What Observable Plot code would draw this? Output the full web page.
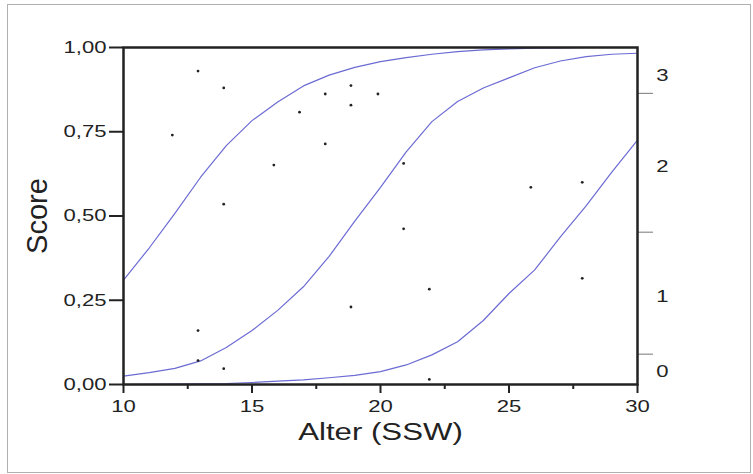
<!DOCTYPE html>
<html>
<head>
<meta charset="utf-8">
<script src="https://cdn.jsdelivr.net/npm/d3@7"></script>
<script src="https://cdn.jsdelivr.net/npm/@observablehq/plot@0.6"></script>
<style>
  html, body { margin: 0; padding: 0; background: #fff; }
  #wrap { position: relative; width: 753px; height: 474px; }
  #border { position: absolute; left: 7px; top: 4px; width: 742px; height: 467px; border: 1px solid #b0b0b0; pointer-events: none; }
</style>
</head>
<body>
<div id="wrap"><div id="border"></div></div>
<script>
// Curve ages and fitted cumulative probabilities
const ages = [10,11,12,13,14,15,16,17,18,19,20,21,22,23,24,25,26,27,28,29,30];
const curve1 = [0.31,0.405,0.508,0.615,0.709,0.783,0.838,0.886,0.918,0.941,0.958,0.970,0.980,0.988,0.993,0.996,0.998,0.999,1.0,1.0,1.0];
const curve2 = [0.025,0.035,0.048,0.07,0.11,0.16,0.22,0.29,0.38,0.485,0.585,0.69,0.78,0.84,0.88,0.91,0.94,0.96,0.973,0.98,0.983];
const curve3 = [0.0,0.0005,0.001,0.002,0.003,0.006,0.01,0.014,0.02,0.027,0.038,0.058,0.088,0.127,0.19,0.27,0.34,0.438,0.53,0.63,0.725];

// Observed points
const pointAge   = [11.9,12.9,13.9,13.9,12.9,12.9,13.9,15.85,16.85,17.85,17.85,18.85,18.85,18.85,19.9,20.9,20.9,21.9,21.9,25.85,27.85,27.85];
const pointScore = [0.74,0.93,0.88,0.535,0.16,0.071,0.047,0.651,0.808,0.862,0.714,0.887,0.829,0.23,0.862,0.656,0.462,0.283,0.015,0.585,0.6,0.315];

// Axes
const xMajorTicks = [10,15,20,25,30];
const xMinorTicks = [12.5,17.5,22.5,27.5];
const yTicks = [0,0.25,0.5,0.75,1];
const rightBounds = [0.09,0.452,0.864];
const rightLabels = ["0","1","2","3"];
const rightLabelY = [0.037,0.26,0.646,0.918];

const curves = [];
[curve1, curve2, curve3].forEach((c, k) => ages.forEach((a, i) => curves.push({age: a, p: c[i], curve: k})));
const points = pointAge.map((a, i) => ({age: a, score: pointScore[i]}));
const rightTexts = rightLabels.map((l, i) => ({label: l, y: rightLabelY[i]}));

const chart = Plot.plot({
  width: 753,
  height: 474,
  marginLeft: 123,
  marginRight: 116,
  marginTop: 47,
  marginBottom: 90,
  style: {fontFamily: "Liberation Sans, Arial, sans-serif", fontSize: "17px", color: "#222", background: "transparent"},
  x: {domain: [10, 30]},
  y: {domain: [0, 1]},
  marks: [
    Plot.line(curves, {x: "age", y: "p", z: "curve", stroke: "#6b6bd3", strokeWidth: 1.2}),
    Plot.dot(points, {x: "age", y: "score", r: 1.4, fill: "#222", stroke: null}),
    Plot.axisY(yTicks, {anchor: "left", tickSize: 14, tickPadding: 3, strokeWidth: 2, label: null,
      tickFormat: d => d.toFixed(2).replace(".", ",")}),
    Plot.axisY(rightBounds, {anchor: "right", tickSize: 15, stroke: "#777", strokeWidth: 1, label: null, tickFormat: () => ""}),
    Plot.text(rightTexts, {y: "y", text: "label", frameAnchor: "right", dx: 25, textAnchor: "middle", fontSize: 17, fill: "#222"}),
    Plot.axisX(xMajorTicks, {anchor: "bottom", tickSize: 9, tickPadding: 6, strokeWidth: 2, label: null}),
    Plot.axisX(xMinorTicks, {anchor: "bottom", tickSize: 5, strokeWidth: 2, label: null, tickFormat: () => ""}),
    Plot.frame({stroke: "#222", strokeWidth: 2.5}),
    Plot.text(["Score"], {frameAnchor: "left", dx: -86, rotate: -90, fontSize: 29, fill: "#222", textAnchor: "middle"}),
    Plot.text(["Alter (SSW)"], {frameAnchor: "bottom", dy: 55, fontSize: 24, fill: "#222", textAnchor: "middle"})
  ]
});

// Widen glyphs horizontally (the reference text is horizontally stretched)
chart.querySelectorAll("text").forEach(t => {
  if (t.textContent === "Score") return;
  const tr = t.getAttribute("transform");
  if (tr) t.setAttribute("transform", tr + " scale(1.3,1)");
});

document.getElementById("wrap").prepend(chart);
</script>
</body>
</html>
